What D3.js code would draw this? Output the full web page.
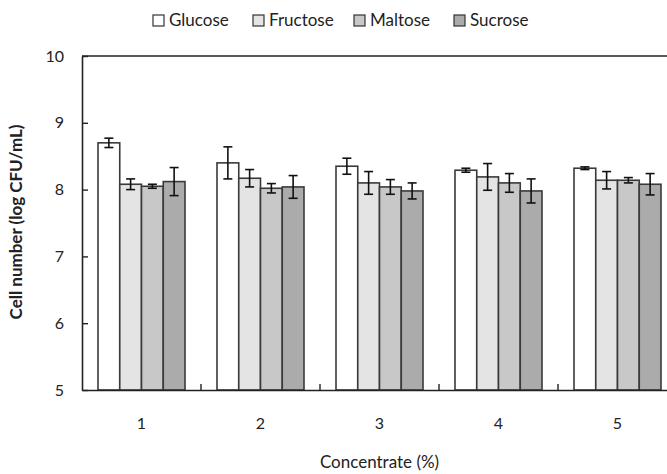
<!DOCTYPE html>
<html>
<head>
<meta charset="utf-8">
<script src="https://cdn.jsdelivr.net/npm/d3@7/dist/d3.min.js"></script>
<style>
  html, body { margin: 0; padding: 0; background: #fff; }
  svg { display: block; font-family: Lato, "Open Sans", sans-serif; }
</style>
</head>
<body>
<svg id="chart" width="667" height="474"></svg>
<script>
// Cell number (log CFU/mL) by sugar source and concentration
const categories = ["1", "2", "3", "4", "5"];
const seriesNames = ["Glucose", "Fructose", "Maltose", "Sucrose"];
const glucose  = [8.70, 8.40, 8.35, 8.29, 8.32];
const fructose = [8.08, 8.17, 8.10, 8.19, 8.14];
const maltose  = [8.05, 8.02, 8.04, 8.10, 8.14];
const sucrose  = [8.12, 8.04, 7.98, 7.98, 8.08];
const glucoseErr  = [0.07, 0.24, 0.12, 0.03, 0.02];
const fructoseErr = [0.08, 0.13, 0.17, 0.20, 0.13];
const maltoseErr  = [0.03, 0.07, 0.11, 0.14, 0.04];
const sucroseErr  = [0.21, 0.17, 0.12, 0.18, 0.16];
const yTicks = [5, 6, 7, 8, 9, 10];
const fills = ["#ffffff", "#e4e4e4", "#c8c8c8", "#ababab"];

const values = [glucose, fructose, maltose, sucrose];
const errors = [glucoseErr, fructoseErr, maltoseErr, sucroseErr];

const svg = d3.select("#chart");
const plot = { left: 82, top: 56, right: 677, bottom: 390 };

const x = d3.scaleBand().domain(categories).range([plot.left, plot.right]).padding(0);
const sub = d3.scaleBand().domain(seriesNames).range([16, x.bandwidth() - 16]).padding(0);
const y = d3.scaleLinear().domain([5, 10]).range([plot.bottom, plot.top]);

const rows = [];
categories.forEach((c, i) => {
  seriesNames.forEach((s, j) => {
    rows.push({ cat: c, series: s, idx: j, value: values[j][i], err: errors[j][i] });
  });
});

// bars
svg.append("g").selectAll("rect").data(rows).join("rect")
  .attr("x", d => x(d.cat) + sub(d.series))
  .attr("y", d => y(d.value))
  .attr("width", sub.bandwidth())
  .attr("height", d => y(5) - y(d.value))
  .attr("fill", d => fills[d.idx])
  .attr("stroke", "#3a3a3a")
  .attr("stroke-width", 1.6);

// error bars
const eg = svg.append("g").attr("stroke", "#111").attr("stroke-width", 1.6);
rows.forEach(d => {
  const cx = x(d.cat) + sub(d.series) + sub.bandwidth() / 2;
  const y1 = y(d.value + d.err), y2 = y(d.value - d.err);
  eg.append("line").attr("x1", cx).attr("x2", cx).attr("y1", y1).attr("y2", y2);
  eg.append("line").attr("x1", cx - 4.5).attr("x2", cx + 4.5).attr("y1", y1).attr("y2", y1);
  eg.append("line").attr("x1", cx - 4.5).attr("x2", cx + 4.5).attr("y1", y2).attr("y2", y2);
});

// frame
svg.append("line").attr("x1", plot.left).attr("x2", plot.right)
  .attr("y1", plot.top).attr("y2", plot.top).attr("stroke", "#222").attr("stroke-width", 1.6);
svg.append("line").attr("x1", plot.right).attr("x2", plot.right)
  .attr("y1", plot.top).attr("y2", plot.bottom).attr("stroke", "#222").attr("stroke-width", 1.6);

// y axis, ticks pointing inward
const yAxis = svg.append("g").attr("transform", `translate(${plot.left},0)`)
  .call(d3.axisRight(y).tickValues(yTicks).tickSize(6).tickSizeOuter(0).tickFormat(d3.format("d")));
yAxis.select(".domain").attr("stroke", "#222").attr("stroke-width", 1.6);
yAxis.selectAll(".tick line").attr("stroke", "#222").attr("stroke-width", 1.4);
yAxis.selectAll(".tick text").attr("x", -18).attr("text-anchor", "end")
  .attr("font-size", 16).attr("fill", "#222").attr("font-family", "Lato, sans-serif");

// x axis: labels centred in bands, ticks at band boundaries pointing inward
const xAxis = svg.append("g").attr("transform", `translate(0,${plot.bottom})`)
  .call(d3.axisBottom(x).tickSize(0).tickSizeOuter(0));
xAxis.select(".domain").attr("stroke", "#222").attr("stroke-width", 1.6);
xAxis.selectAll(".tick text").attr("y", 33).attr("dy", "0.35em")
  .attr("font-size", 16).attr("fill", "#222").attr("font-family", "Lato, sans-serif");
svg.append("g").selectAll("line").data(categories.slice(1)).join("line")
  .attr("x1", d => x(d)).attr("x2", d => x(d))
  .attr("y1", plot.bottom).attr("y2", plot.bottom - 6)
  .attr("stroke", "#222").attr("stroke-width", 1.4);

// axis titles, centred on the plot area
svg.append("text").attr("x", (plot.left + plot.right) / 2).attr("y", 462).attr("dy", "0.35em")
  .attr("text-anchor", "middle").attr("font-size", 17).attr("fill", "#222").text("Concentrate (%)");
svg.append("text").attr("transform", "translate(16,222) rotate(-90)").attr("dy", "0.35em")
  .attr("text-anchor", "middle").attr("font-size", 17).attr("font-weight", "bold")
  .attr("fill", "#222").text("Cell number (log CFU/mL)");

// legend
const legendX = [153, 253, 354, 454];
const lg = svg.append("g");
seriesNames.forEach((s, j) => {
  lg.append("rect").attr("x", legendX[j]).attr("y", 15).attr("width", 11).attr("height", 11)
    .attr("fill", fills[j]).attr("stroke", "#333").attr("stroke-width", 1.2);
  lg.append("text").attr("x", legendX[j] + 16).attr("y", 20.5).attr("dy", "0.35em")
    .attr("font-size", 17).attr("fill", "#222").text(s);
});
</script>
</body>
</html>
